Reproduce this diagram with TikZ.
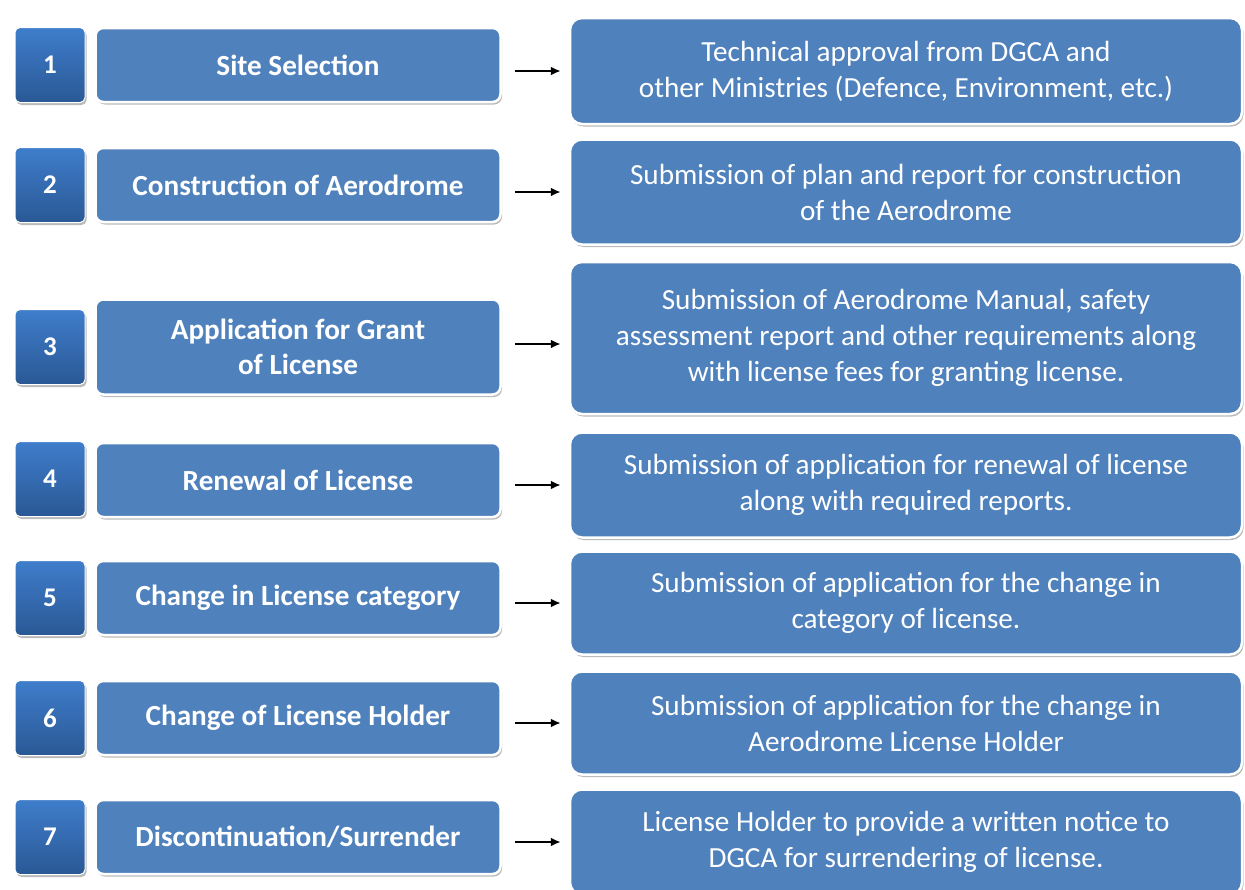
\documentclass[tikz,border=0pt]{standalone}
\usepackage{fontspec}
\setmainfont{Carlito}
\usetikzlibrary{shadows,arrows.meta}
\definecolor{boxblue}{HTML}{4F81BD}
\definecolor{numtop}{HTML}{3F7DCB}
\definecolor{numbot}{HTML}{2A5895}
\tikzset{
  numbox/.style={draw=white, line width=1pt, rounded corners=5pt, top color=numtop, bottom color=numbot,
    minimum width=70pt, minimum height=75pt, text=white, font=\fontsize{27}{30}\selectfont\bfseries,
    drop shadow={shadow xshift=1.5pt, shadow yshift=-2.5pt, fill=black!60, opacity=.45}},
  stagebox/.style={draw=white, line width=2.5pt, rounded corners=8pt, fill=boxblue,
    minimum width=405pt, minimum height=74pt, text=white, align=center, inner sep=0pt,
    font=\fontsize{29.2}{35}\selectfont\bfseries,
    drop shadow={shadow xshift=1.5pt, shadow yshift=-2.5pt, fill=black!60, opacity=.45}},
  reqbox/.style={draw=white, line width=2.5pt, rounded corners=12pt, fill=boxblue,
    minimum width=672pt, text=white, align=center, inner sep=0pt,
    font=\fontsize{29.2}{36}\selectfont,
    drop shadow={shadow xshift=1.5pt, shadow yshift=-2.5pt, fill=black!60, opacity=.45}},
  arr/.style={-{Latex[length=10pt,width=9pt]}, line width=2.4pt, black, shorten <=13pt, shorten >=8pt}
}
\begin{document}
\begin{tikzpicture}[x=1pt,y=-1pt]
\useasboundingbox (0,0) rectangle (1245,889);
\fill[white] (0,0) rectangle (1245,889);
% number boxes
\node[numbox] (N1) at (50,65) {1};
\node[numbox] (N2) at (50,185) {2};
\node[numbox] (N3) at (50,347) {3};
\node[numbox] (N4) at (50,479) {4};
\node[numbox] (N5) at (50,598) {5};
\node[numbox] (N6) at (50,718) {6};
\node[numbox] (N7) at (50,837) {7};
% stage boxes
\node[stagebox] (L1) at (298,65) {Site Selection};
\node[stagebox] (L2) at (298,185) {Construction of Aerodrome};
\node[stagebox, minimum height=95pt] (L3) at (298,347) {Application for Grant\\of License};
\node[stagebox] (L4) at (298,480) {Renewal of License};
\node[stagebox] (L5) at (298,598) {Change in License category};
\node[stagebox] (L6) at (298,718) {Change of License Holder};
\node[stagebox] (L7) at (298,837) {Discontinuation/Surrender};
% requirement boxes
\node[reqbox, minimum height=106pt] (R1) at (906,71) {Technical approval from DGCA and\\other Ministries (Defence, Environment, etc.)};
\node[reqbox, minimum height=105pt] (R2) at (906,192) {Submission of plan and report for construction\\of the Aerodrome};
\node[reqbox, minimum height=152pt] (R3) at (906,338) {Submission of Aerodrome Manual, safety\\assessment report and other requirements along\\with license fees for granting license.};
\node[reqbox, minimum height=105pt] (R4) at (906,485) {Submission of application for renewal of license\\along with required reports.};
\node[reqbox, minimum height=103pt] (R5) at (906,603) {Submission of application for the change in\\category of license.};
\node[reqbox, minimum height=103pt] (R6) at (906,723) {Submission of application for the change in\\Aerodrome License Holder};
\node[reqbox, minimum height=105pt] (R7) at (906,842) {License Holder to provide a written notice to\\DGCA for surrendering of license.};
% arrows
\draw[arr] (L1.east |- R1.west) -- (R1.west);
\draw[arr] (L2.east |- R2.west) -- (R2.west);
\draw[arr] (L3.east |- 0,344) -- (R3.west |- 0,344);
\draw[arr] (L4.east |- R4.west) -- (R4.west);
\draw[arr] (L5.east |- R5.west) -- (R5.west);
\draw[arr] (L6.east |- R6.west) -- (R6.west);
\draw[arr] (L7.east |- R7.west) -- (R7.west);
\end{tikzpicture}
\end{document}
